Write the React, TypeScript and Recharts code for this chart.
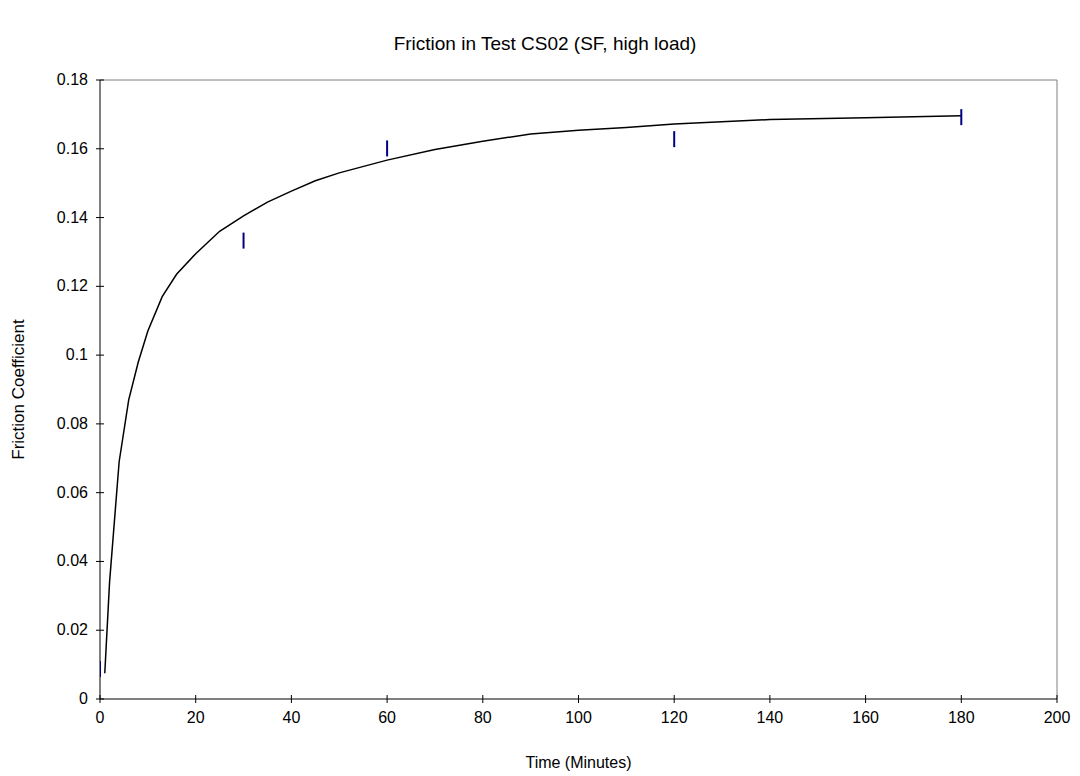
import React from 'react';
import { ComposedChart, Line, Scatter, XAxis, YAxis, ReferenceLine } from 'recharts';

const curveTime = [1, 2, 4, 6, 8, 10, 13, 16, 20, 25, 30, 35, 40, 45, 50, 60, 70, 80, 90, 100, 110, 120, 140, 160, 180];
const curveFriction = [0.0075, 0.034, 0.069, 0.087, 0.098, 0.107, 0.117, 0.1235, 0.1295, 0.136, 0.1405, 0.1445, 0.1477, 0.1507, 0.153, 0.1567, 0.1598, 0.1622, 0.1643, 0.1654, 0.1662, 0.1672, 0.1685, 0.169, 0.1696];

const measuredTime = [0, 30, 60, 120, 180];
const measuredFriction = [0.0087, 0.1333, 0.1601, 0.1628, 0.1692];

const xTicks = [0, 20, 40, 60, 80, 100, 120, 140, 160, 180, 200];
const yTicks = [0, 0.02, 0.04, 0.06, 0.08, 0.1, 0.12, 0.14, 0.16, 0.18];
const yTickLabels = ['0', '0.02', '0.04', '0.06', '0.08', '0.1', '0.12', '0.14', '0.16', '0.18'];

const curveData = curveTime.map((t, i) => ({ t, v: curveFriction[i] }));
const measuredData = measuredTime.map((t, i) => ({ t, v: measuredFriction[i] }));

const FONT = '"Liberation Sans", Arial, sans-serif';
const TICK_MARGIN = 12;

const YTick = (props: any) => {
  const { x, y, payload } = props;
  const label = yTickLabels[yTicks.indexOf(payload.value)] ?? String(payload.value);
  return (
    <g>
      <line x1={x + TICK_MARGIN - 4} x2={x + TICK_MARGIN + 4} y1={y} y2={y} stroke="#000" strokeWidth={1} />
      <text x={x} y={y} dy={5} textAnchor="end" fontSize={16} fontFamily={FONT} fill="#000">{label}</text>
    </g>
  );
};

const XTick = (props: any) => {
  const { x, y, payload } = props;
  return (
    <g>
      <line x1={x} x2={x} y1={y - TICK_MARGIN - 4} y2={y - TICK_MARGIN + 4} stroke="#000" strokeWidth={1} />
      <text x={x} y={y} dy={12} textAnchor="middle" fontSize={16} fontFamily={FONT} fill="#000">{payload.value}</text>
    </g>
  );
};

const DashMarker = (props: any) => {
  const { cx, cy } = props;
  return <line x1={cx} x2={cx} y1={cy - 8} y2={cy + 8} stroke="#000080" strokeWidth={2} />;
};

export default function App() {
  return (
    <div style={{ position: 'absolute', left: 0, top: 0, width: 1080, height: 776, background: '#fff' }}>
      <div style={{ position: 'absolute', left: 10, top: 32, width: 1070, textAlign: 'center', fontFamily: FONT, fontSize: 19, lineHeight: '23px', color: '#000' }}>
        Friction in Test CS02 (SF, high load)
      </div>
      <ComposedChart width={1080} height={776} margin={{ top: 80, right: 23, bottom: 0, left: 0 }}>
        <XAxis
          type="number"
          dataKey="t"
          domain={[0, 200]}
          ticks={xTicks}
          interval={0}
          height={77}
          tickSize={0}
          tickMargin={TICK_MARGIN}
          tick={<XTick />}
          axisLine={{ stroke: '#000', strokeWidth: 1 }}
          allowDataOverflow
          label={{ value: 'Time (Minutes)', position: 'insideBottom', offset: 8, style: { fontSize: 16, fontFamily: FONT, fill: '#000' } }}
        />
        <YAxis
          type="number"
          dataKey="v"
          domain={[0, 0.18]}
          ticks={yTicks}
          interval={0}
          width={100}
          tickSize={0}
          tickMargin={TICK_MARGIN}
          tick={<YTick />}
          axisLine={{ stroke: '#000', strokeWidth: 1 }}
          allowDataOverflow
          label={{ value: 'Friction Coefficient', angle: -90, position: 'insideLeft', offset: 18, style: { textAnchor: 'middle', fontSize: 17, fontFamily: FONT, fill: '#000' } }}
        />
        <ReferenceLine y={0.18} stroke="#808080" strokeWidth={1} ifOverflow="visible" />
        <ReferenceLine x={200} stroke="#808080" strokeWidth={1} ifOverflow="visible" />
        <Line data={curveData} dataKey="v" type="linear" stroke="#000" strokeWidth={1.5} dot={false} activeDot={false} isAnimationActive={false} />
        <Scatter data={measuredData} dataKey="v" shape={<DashMarker />} isAnimationActive={false} />
      </ComposedChart>
    </div>
  );
}
